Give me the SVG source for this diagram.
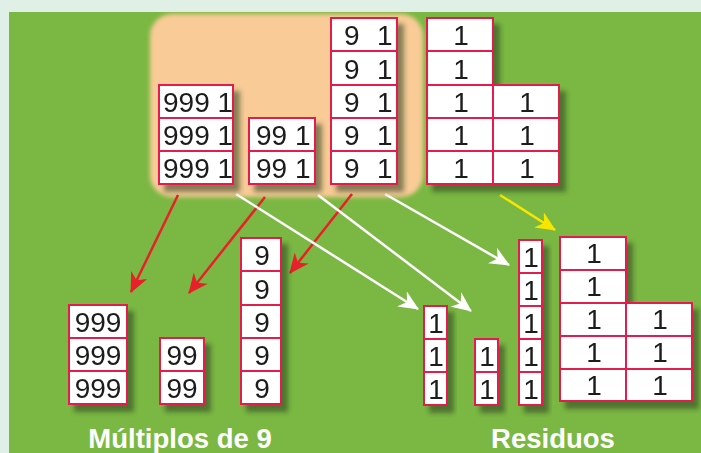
<svg xmlns="http://www.w3.org/2000/svg" width="701" height="453" viewBox="0 0 701 453">
<style>
.b{fill:#fff;stroke:#e31c4b;stroke-width:2}
.t{font-family:"Liberation Sans",Arial,sans-serif;font-size:28px;fill:#1a1a1a}
.m{text-anchor:middle}
.lbl{font-family:"Liberation Sans",Arial,sans-serif;font-size:27.5px;font-weight:bold;fill:#fff;text-anchor:middle}
.col{filter:url(#sh)}
.r{stroke:#e8202a;stroke-width:2.5;fill:none;marker-end:url(#ar)}
.w{stroke:#fff;stroke-width:2.5;fill:none;marker-end:url(#aw)}
.y{stroke:#f7e600;stroke-width:2.5;fill:none;marker-end:url(#ay)}
</style>
<defs>
<filter id="sh" x="-30%" y="-30%" width="170%" height="170%">
<feDropShadow dx="6" dy="7" stdDeviation="2.5" flood-color="#2a3a20" flood-opacity="0.55"/>
</filter>
<filter id="soft" x="-10%" y="-10%" width="120%" height="120%">
<feGaussianBlur stdDeviation="2"/>
</filter>
<marker id="ar" markerUnits="userSpaceOnUse" markerWidth="22" markerHeight="18" refX="19" refY="9" orient="auto"><path d="M0,0 L20,9 L0,18 L6,9 z" fill="#e8202a"/></marker>
<marker id="aw" markerUnits="userSpaceOnUse" markerWidth="22" markerHeight="18" refX="19" refY="9" orient="auto"><path d="M0,0 L20,9 L0,18 L6,9 z" fill="#fff"/></marker>
<marker id="ay" markerUnits="userSpaceOnUse" markerWidth="22" markerHeight="18" refX="19" refY="9" orient="auto"><path d="M0,0 L20,9 L0,18 L6,9 z" fill="#f7e600"/></marker>
</defs>
<rect x="0" y="0" width="701" height="453" fill="#e1f0e6"/>
<rect x="9" y="12" width="692" height="441" fill="#7bb843"/>
<rect x="150" y="14" width="273" height="183" rx="22" fill="#f9cb96" filter="url(#soft)"/>

<g id="connectors">
<line class="r" x1="178" y1="195" x2="131" y2="292"/>
<line class="r" x1="265" y1="197" x2="189" y2="293"/>
<line class="r" x1="352" y1="194" x2="290" y2="273"/>
<line class="w" x1="236" y1="194" x2="418" y2="309"/>
<line class="w" x1="318" y1="195" x2="471" y2="311"/>
<line class="w" x1="385" y1="194" x2="509" y2="265"/>
<line class="y" x1="500" y1="195" x2="555" y2="230"/>
</g>

<g id="top-999" class="col">
<rect class="b" x="159" y="85" width="74" height="33"/>
<rect class="b" x="159" y="118" width="74" height="33"/>
<rect class="b" x="159" y="151" width="74" height="33"/>
<text class="t" x="163" y="112">999 1</text>
<text class="t" x="163" y="145">999 1</text>
<text class="t" x="163" y="178">999 1</text>
</g>
<g id="top-99" class="col">
<rect class="b" x="249" y="118" width="66" height="33"/>
<rect class="b" x="249" y="151" width="66" height="33"/>
<text class="t" x="256" y="145">99 1</text>
<text class="t" x="256" y="178">99 1</text>
</g>
<g id="top-9" class="col">
<rect class="b" x="331" y="18" width="66" height="33"/>
<rect class="b" x="331" y="51" width="66" height="34"/>
<rect class="b" x="331" y="85" width="66" height="33"/>
<rect class="b" x="331" y="118" width="66" height="33"/>
<rect class="b" x="331" y="151" width="66" height="33"/>
<text class="t" x="344" y="45">9</text><text class="t" x="377" y="45">1</text>
<text class="t" x="344" y="79">9</text><text class="t" x="377" y="79">1</text>
<text class="t" x="344" y="112">9</text><text class="t" x="377" y="112">1</text>
<text class="t" x="344" y="145">9</text><text class="t" x="377" y="145">1</text>
<text class="t" x="344" y="178">9</text><text class="t" x="377" y="178">1</text>
</g>
<g id="top-ones" class="col">
<rect class="b" x="427" y="18" width="66" height="33"/>
<rect class="b" x="427" y="51" width="66" height="34"/>
<rect class="b" x="427" y="85" width="66" height="33"/>
<rect class="b" x="427" y="118" width="66" height="33"/>
<rect class="b" x="427" y="151" width="66" height="33"/>
<rect class="b" x="493" y="85" width="66" height="33"/>
<rect class="b" x="493" y="118" width="66" height="33"/>
<rect class="b" x="493" y="151" width="66" height="33"/>
<text class="t m" x="461" y="45">1</text>
<text class="t m" x="461" y="79">1</text>
<text class="t m" x="461" y="112">1</text>
<text class="t m" x="461" y="145">1</text>
<text class="t m" x="461" y="178">1</text>
<text class="t m" x="527" y="112">1</text>
<text class="t m" x="527" y="145">1</text>
<text class="t m" x="527" y="178">1</text>
</g>

<g id="bot-999" class="col">
<rect class="b" x="69" y="305" width="58" height="33"/>
<rect class="b" x="69" y="338" width="58" height="33"/>
<rect class="b" x="69" y="371" width="58" height="33"/>
<text class="t m" x="98" y="332">999</text>
<text class="t m" x="98" y="365">999</text>
<text class="t m" x="98" y="398">999</text>
</g>
<g id="bot-99" class="col">
<rect class="b" x="160" y="338" width="44" height="33"/>
<rect class="b" x="160" y="371" width="44" height="33"/>
<text class="t m" x="182" y="365">99</text>
<text class="t m" x="182" y="398">99</text>
</g>
<g id="bot-9" class="col">
<rect class="b" x="241" y="238" width="40" height="33"/>
<rect class="b" x="241" y="271" width="40" height="34"/>
<rect class="b" x="241" y="305" width="40" height="33"/>
<rect class="b" x="241" y="338" width="40" height="33"/>
<rect class="b" x="241" y="371" width="40" height="33"/>
<text class="t m" x="262" y="265">9</text>
<text class="t m" x="262" y="299">9</text>
<text class="t m" x="262" y="332">9</text>
<text class="t m" x="262" y="365">9</text>
<text class="t m" x="262" y="398">9</text>
</g>

<g id="res-a" class="col">
<rect class="b" x="424" y="306" width="23" height="33"/>
<rect class="b" x="424" y="339" width="23" height="33"/>
<rect class="b" x="424" y="372" width="23" height="33"/>
<text class="t m" x="436" y="333">1</text>
<text class="t m" x="436" y="366">1</text>
<text class="t m" x="436" y="399">1</text>
</g>
<g id="res-b" class="col">
<rect class="b" x="475" y="339" width="23" height="33"/>
<rect class="b" x="475" y="372" width="23" height="33"/>
<text class="t m" x="487" y="366">1</text>
<text class="t m" x="487" y="399">1</text>
</g>
<g id="res-c" class="col">
<rect class="b" x="519" y="240" width="23" height="33"/>
<rect class="b" x="519" y="273" width="23" height="33"/>
<rect class="b" x="519" y="306" width="23" height="33"/>
<rect class="b" x="519" y="339" width="23" height="33"/>
<rect class="b" x="519" y="372" width="23" height="33"/>
<text class="t m" x="531" y="267">1</text>
<text class="t m" x="531" y="300">1</text>
<text class="t m" x="531" y="333">1</text>
<text class="t m" x="531" y="366">1</text>
<text class="t m" x="531" y="399">1</text>
</g>
<g id="res-ones" class="col">
<rect class="b" x="560" y="237" width="66" height="33"/>
<rect class="b" x="560" y="270" width="66" height="33"/>
<rect class="b" x="560" y="303" width="66" height="33"/>
<rect class="b" x="560" y="336" width="66" height="33"/>
<rect class="b" x="560" y="369" width="66" height="32"/>
<rect class="b" x="626" y="303" width="66" height="33"/>
<rect class="b" x="626" y="336" width="66" height="33"/>
<rect class="b" x="626" y="369" width="66" height="32"/>
<text class="t m" x="594" y="263">1</text>
<text class="t m" x="594" y="296">1</text>
<text class="t m" x="594" y="329">1</text>
<text class="t m" x="594" y="362">1</text>
<text class="t m" x="594" y="395">1</text>
<text class="t m" x="660" y="329">1</text>
<text class="t m" x="660" y="362">1</text>
<text class="t m" x="660" y="395">1</text>
</g>

<text class="lbl" x="180" y="448">Múltiplos de 9</text>
<text class="lbl" x="553" y="448">Residuos</text>
</svg>
